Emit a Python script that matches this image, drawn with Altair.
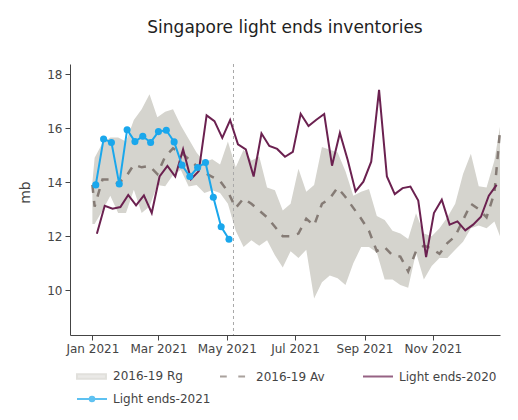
import altair as alt
import pandas as pd

chart_title = "Singapore light ends inventories"
series_names = ["2016-19 Rg", "2016-19 Av", "Light ends-2020", "Light ends-2021"]
series_colors = ["#d5d4ce", "#857b75", "#6b2150", "#1aa7ec"]

# 2016-19 range / average, drawn on 2021 dates
hist_dates = (["2021-01-01"]
              + [str(d.date()) for d in pd.date_range("2021-01-03", periods=52, freq="7D")]
              + ["2021-12-31"])
hist_low = [12.45, 12.45, 12.95, 13.5, 12.86, 12.86, 13.72, 12.86, 13.1, 13.9, 13.85,
            14.27, 14.45, 13.84, 13.9, 13.6, 13.7, 13.6, 13.2, 12.2, 11.6,
            11.85, 11.65, 11.85, 11.3, 10.85, 11.45, 11.2, 11.5, 9.7, 10.3,
            10.55, 10.45, 10.2, 11.0, 11.6, 11.6, 11.4, 10.4, 10.4, 10.2,
            10.1, 11.4, 10.4, 10.9, 11.2, 11.2, 11.5, 11.8, 12.3, 12.4,
            12.3, 12.55, 12.0]
hist_high = [14.0, 14.9, 15.45, 15.65, 15.65, 15.5, 16.3, 16.7, 17.25, 16.4, 16.6,
             16.7, 16.1, 15.6, 15.1, 14.75, 14.85, 14.65, 15.5, 14.55, 15.2,
             14.8, 14.95, 13.8, 13.7, 12.95, 13.2, 14.5, 13.65, 13.9, 15.3,
             15.2, 15.1, 14.4, 13.5, 13.65, 13.75, 12.75, 12.6, 12.2, 12.1,
             11.9, 12.85, 12.1, 12.0, 12.3, 12.7, 13.2, 14.3, 15.05, 13.85,
             13.8, 14.8, 16.05]
hist_avg = [13.9, 13.1, 14.1, 14.1, 13.95, 14.2, 14.65, 14.55, 14.6, 14.3, 14.95,
            15.25, 15.1, 14.85, 14.6, 14.35, 14.2, 14.05, 13.65, 13.05, 13.4,
            13.2, 12.95, 12.7, 12.35, 12.0, 12.0, 12.1, 12.65, 12.4, 13.2,
            13.4, 13.8, 13.45, 13.05, 12.65, 12.2, 11.45, 11.6, 11.3, 11.25,
            10.7, 11.45, 11.65, 11.55, 11.35, 11.75, 12.0, 12.6, 13.2, 13.0,
            12.7, 13.6, 15.9]

dates_2020 = pd.date_range("2021-01-05", periods=52, freq="7D")
values_2020 = [12.09, 13.13, 13.02, 13.08, 13.53, 13.14, 13.51, 12.86, 14.21, 14.6,
               14.21, 15.22, 14.11, 14.41, 16.47, 16.26, 15.64, 16.3, 15.4, 15.21,
               14.21, 15.8, 15.34, 15.23, 14.94, 15.12, 16.53, 16.08, 16.31, 16.52,
               14.61, 15.82, 14.82, 13.66, 14.02, 14.76, 17.41, 14.21, 13.56, 13.78,
               13.84, 13.32, 11.23, 12.86, 13.35, 12.43, 12.55, 12.22, 12.43, 12.72,
               13.5, 13.9]

dates_2021 = pd.date_range("2021-01-04", periods=18, freq="7D")
values_2021 = [13.9, 15.6, 15.47, 13.93, 15.94, 15.5, 15.7, 15.47, 15.87, 15.92,
               15.49, 14.63, 14.21, 14.54, 14.73, 13.44, 12.35, 11.89]

marker_dates = ["2021-05-07"]

# legend swatches as svg paths
legend_shapes = [
    "M-1,-0.15H0.93V0.15H-1Z",
    "M-1,0H-0.55M0.22,0H0.67",
    "M-1,0H1",
    "M-1,0H1M0.15,0A0.15,0.15,0,1,1,-0.15,0A0.15,0.15,0,1,1,0.15,0",
]

hist = pd.DataFrame({"date": pd.to_datetime(hist_dates), "low": hist_low,
                     "high": hist_high, "avg": hist_avg})
df20 = pd.DataFrame({"date": dates_2020, "value": values_2020})
df21 = pd.DataFrame({"date": dates_2021, "value": values_2021})
marker = pd.DataFrame({"date": pd.to_datetime(marker_dates)})
leg = pd.DataFrame({"series": series_names})

FONT = "DejaVu Sans"

x_scale = alt.Scale(domain=[alt.DateTime(year=2020, month=12, date=12),
                            alt.DateTime(year=2021, month=12, date=31)])
y_scale = alt.Scale(domain=[8.35, 18.37], nice=False, zero=False)

x_axis = alt.Axis(values=[alt.DateTime(year=2021, month=m, date=1) for m in (1, 3, 5, 7, 9, 11)],
                  format="%b %Y", title=None, labelFlush=False, labelOverlap=False,
                  grid=False, tickSize=5, labelPadding=3)
y_axis = alt.Axis(values=[10, 12, 14, 16, 18], title="mb", grid=False, tickSize=5,
                  labelPadding=3, titleAngle=270, titleX=-45, titleY=128,
                  titleBaseline="middle", titleAlign="center", titleFontSize=14)

band = alt.Chart(hist).mark_area(color=series_colors[0]).encode(
    x=alt.X("date:T", scale=x_scale, axis=x_axis),
    y=alt.Y("high:Q", scale=y_scale, axis=y_axis),
    y2="low:Q",
)

rule = alt.Chart(marker).mark_rule(color="#a8a8a8", strokeDash=[3, 3], strokeWidth=1).encode(
    x="date:T"
)

avg = alt.Chart(hist).mark_line(color=series_colors[1], strokeWidth=2.5,
                                strokeDash=[8, 8]).encode(x="date:T", y="avg:Q")

line20 = alt.Chart(df20).mark_line(color=series_colors[2], strokeWidth=2).encode(
    x="date:T", y="value:Q")

line21 = alt.Chart(df21).mark_line(
    color=series_colors[3], strokeWidth=2,
    point=alt.OverlayMarkDef(filled=True, size=50, color=series_colors[3], opacity=1),
).encode(x="date:T", y="value:Q")

legend = alt.Legend(title=None, orient="none", direction="horizontal", legendX=6, legendY=296,
                    columns=3, gridAlign="all", columnPadding=5, rowPadding=-12, padding=0,
                    symbolSize=900, symbolStrokeWidth=2, symbolOffset=0, labelOffset=5,
                    labelFont=FONT, labelFontSize=12, labelColor="#444")

legend_layer = alt.Chart(leg).mark_point(filled=True).encode(
    fill=alt.Fill("series:N", scale=alt.Scale(domain=series_names, range=series_colors), legend=legend),
    stroke=alt.Stroke("series:N", scale=alt.Scale(domain=series_names, range=series_colors), legend=legend),
    shape=alt.Shape("series:N", scale=alt.Scale(domain=series_names, range=legend_shapes), legend=legend),
).transform_filter("false")

chart = alt.layer(band, rule, avg, line20, line21, legend_layer).properties(
    width=430,
    height=271,
    title=alt.TitleParams(chart_title, font=FONT, fontSize=17, fontWeight="normal",
                          color="#222", anchor="middle", baseline="alphabetic", offset=14),
    autosize=alt.AutoSizeParams(type="none"),
    padding={"left": 62, "top": 56, "right": 10, "bottom": 80},
).configure_view(stroke=None).configure_axis(
    labelFont=FONT, labelFontSize=12, labelColor="#444", titleFont=FONT,
    titleFontWeight="normal", titleColor="#444", domainColor="#444", tickColor="#444",
)

chart.save("out.html", embed_options={"renderer": "svg", "actions": False})
